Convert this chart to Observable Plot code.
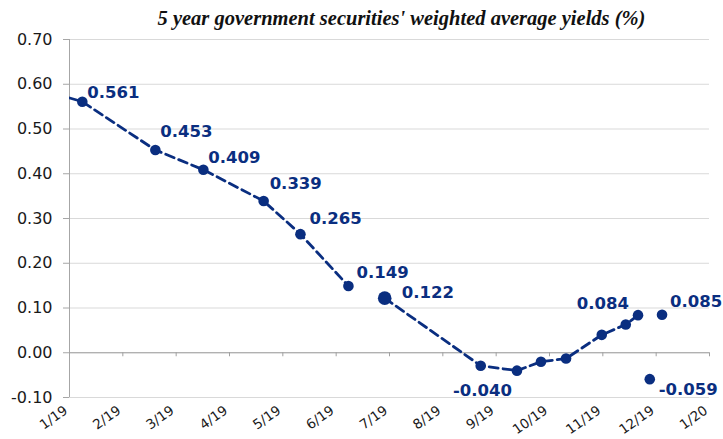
<!DOCTYPE html>
<html><head><meta charset="utf-8">
<script src="https://cdn.jsdelivr.net/npm/d3@7"></script>
<script src="https://cdn.jsdelivr.net/npm/@observablehq/plot@0.6"></script>
<style>
body{margin:0;background:#fff;}
#title{width:723px;height:30px;box-sizing:border-box;padding-top:9px;padding-left:80px;line-height:18px;text-align:center;
font-family:"Liberation Serif","Times New Roman",serif;font-weight:bold;font-style:italic;font-size:20.5px;color:#111;white-space:nowrap;}
</style>
</head><body>
<div id="title">5 year government securities' weighted average yields (%)</div>
<div id="chart"></div>
<script>
// x axis: months from 1/19 (0) to 1/20 (12)
const monthTicks = [0,1,2,3,4,5,6,7,8,9,10,11,12];
const monthLabels = ["1/19","2/19","3/19","4/19","5/19","6/19","7/19","8/19","9/19","10/19","11/19","12/19","1/20"];
const yTicks = [-0.1,0,0.1,0.2,0.3,0.4,0.5,0.6,0.7];
const yTickLabels = ["-0.10","0.00","0.10","0.20","0.30","0.40","0.50","0.60","0.70"];

// observations (position in months since 1/19)
const pointMonth   = [-0.5, 0.24, 1.61, 2.51, 3.64, 4.33, 5.23, 5.91, 7.71, 8.39, 8.84, 9.31, 9.98, 10.43, 10.66, 10.88, 11.11];
const pointYield   = [0.587, 0.561, 0.453, 0.409, 0.339, 0.265, 0.149, 0.122, -0.029, -0.040, -0.020, -0.013, 0.040, 0.063, 0.084, -0.059, 0.085];
const pointSegment = ["a","a","a","a","a","a","a","b","b","b","b","b","b","b","b","c","d"];
const pointLabel   = ["","0.561","0.453","0.409","0.339","0.265","0.149","0.122","","-0.040","","","","","0.084","-0.059","0.085"];

const data = pointMonth.map((m,i)=>({m, v: pointYield[i], seg: pointSegment[i], label: pointLabel[i]}));
const navy = "#0a2e80";

const labelPlacement = {
  "0.561": {dx:5, dy:-9, textAnchor:"start"},
  "0.453": {dx:5, dy:-18, textAnchor:"start"},
  "0.409": {dx:5, dy:-12, textAnchor:"start"},
  "0.339": {dx:6, dy:-17, textAnchor:"start"},
  "0.265": {dx:9, dy:-15, textAnchor:"start"},
  "0.149": {dx:8, dy:-13, textAnchor:"start"},
  "0.122": {dx:17, dy:-5, textAnchor:"start"},
  "-0.040": {dx:-5, dy:20, textAnchor:"end"},
  "0.084": {dx:-9, dy:-11, textAnchor:"end"},
  "0.085": {dx:8, dy:-13, textAnchor:"start"},
  "-0.059": {dx:9, dy:11, textAnchor:"start"}
};

const labelMarks = Object.entries(labelPlacement).map(([key, o]) =>
  Plot.text(data, {filter: d => d.label === key, x:"m", y:"v", text:"label", dx:o.dx, dy:o.dy,
    textAnchor:o.textAnchor, fontWeight:"bold", fontSize:16.5, fill:navy}));

const chart = Plot.plot({
  width:723, height:409,
  marginTop:9, marginBottom:42, marginLeft:69, marginRight:14,
  x:{domain:[0,12], axis:null},
  y:{domain:[-0.1,0.7], axis:null},
  style:{fontFamily:"DejaVu Sans, Verdana, sans-serif", background:"#fff"},
  marks:[
    Plot.gridY(yTicks, {stroke:"#d9d9d9", strokeOpacity:1}),
    Plot.axisY({ticks:yTicks, label:null, tickSize:6, tickPadding:11, fontSize:16, stroke:"#a6a6a6", fill:"#1a1a1a",
      tickFormat: d => yTickLabels[Math.round((d + 0.1) * 10)]}),
    Plot.ruleX([0], {stroke:"#a6a6a6"}),
    Plot.ruleY([0], {stroke:"#a0a0a0"}),
    Plot.ruleX(monthTicks.slice(1), {x: d => d, y1:0, y2:-0.009, stroke:"#a0a0a0"}),
    Plot.text(monthTicks, {x: d => d, text: (d,i) => monthLabels[i], frameAnchor:"bottom",
      textAnchor:"end", rotate:-35, dx:-1, dy:15, fontSize:13.5, fill:"#1a1a1a"}),
    Plot.line(data, {x:"m", y:"v", z:"seg", stroke:navy, strokeWidth:2.8, strokeDasharray:"9,5", clip:true}),
    Plot.dot(data, {filter: d => d.label !== "0.122", x:"m", y:"v", r:5.3, fill:navy, clip:true}),
    Plot.dot(data, {filter: d => d.label === "0.122", x:"m", y:"v", r:6.8, fill:navy, clip:true}),
    ...labelMarks
  ]
});
document.getElementById("chart").appendChild(chart);
</script>
</body></html>
